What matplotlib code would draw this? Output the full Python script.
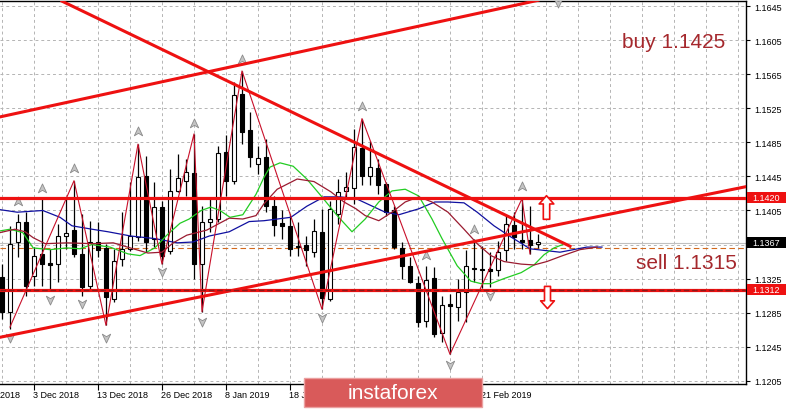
import numpy as np
import matplotlib.pyplot as plt
from matplotlib.path import Path
from matplotlib.patches import Rectangle
from matplotlib.transforms import Bbox, TransformedBbox

# daily EURUSD candles, bar 0 = 27 Nov 2018
opens = [1.1327, 1.1286, 1.1368, 1.1392, 1.1328, 1.1354, 1.1343, 1.1342, 1.1375, 1.1382,
         1.1354, 1.1316, 1.1368, 1.1361, 1.1301, 1.1348, 1.1360, 1.1374, 1.1446, 1.1372,
         1.1409, 1.1357, 1.1428, 1.1440, 1.1449, 1.1342, 1.1392, 1.1395, 1.1474, 1.1440,
         1.1542, 1.1500, 1.1460, 1.1468, 1.1410, 1.1390, 1.1387, 1.1363, 1.1365, 1.1356,
         1.1380, 1.1301, 1.1401, 1.1428, 1.1432, 1.1479, 1.1446, 1.1455, 1.1436, 1.1405,
         1.1361, 1.1340, 1.1320, 1.1275, 1.1326, 1.1261, 1.1294, 1.1292, 1.1309, 1.1338,
         1.1336, 1.1335, 1.1335, 1.1358, 1.1388, 1.1370, 1.1370, 1.1366]
highs = [1.1342, 1.1387, 1.1401, 1.1403, 1.1362, 1.1419, 1.1360, 1.1389, 1.1421, 1.1440,
         1.1401, 1.1393, 1.1392, 1.1366, 1.1360, 1.1403, 1.1438, 1.1483, 1.1469, 1.1438,
         1.1416, 1.1454, 1.1471, 1.1466, 1.1495, 1.1410, 1.1419, 1.1481, 1.1494, 1.1556,
         1.1569, 1.1521, 1.1481, 1.1489, 1.1422, 1.1405, 1.1401, 1.1392, 1.1375, 1.1395,
         1.1407, 1.1416, 1.1442, 1.1450, 1.1501, 1.1513, 1.1487, 1.1466, 1.1439, 1.1410,
         1.1368, 1.1350, 1.1328, 1.1340, 1.1339, 1.1305, 1.1307, 1.1325, 1.1358, 1.1372,
         1.1363, 1.1356, 1.1369, 1.1400, 1.1403, 1.1419, 1.1410, 1.1377]
lows = [1.1278, 1.1266, 1.1350, 1.1305, 1.1316, 1.1316, 1.1313, 1.1321, 1.1360, 1.1350,
        1.1305, 1.1313, 1.1350, 1.1270, 1.1297, 1.1340, 1.1357, 1.1369, 1.1356, 1.1362,
        1.1342, 1.1354, 1.1427, 1.1422, 1.1324, 1.1286, 1.1380, 1.1392, 1.1422, 1.1436,
        1.1483, 1.1456, 1.1448, 1.1403, 1.1375, 1.1372, 1.1352, 1.1352, 1.1340, 1.1350,
        1.1289, 1.1299, 1.1389, 1.1419, 1.1413, 1.1435, 1.1435, 1.1424, 1.1399, 1.1360,
        1.1325, 1.1320, 1.1268, 1.1268, 1.1256, 1.1251, 1.1236, 1.1275, 1.1274, 1.1321,
        1.1314, 1.1315, 1.1328, 1.1346, 1.1360, 1.1360, 1.1354, 1.1361]
closes = [1.1286, 1.1366, 1.1392, 1.1316, 1.1352, 1.1342, 1.1341, 1.1375, 1.1379, 1.1354,
          1.1315, 1.1368, 1.1359, 1.1303, 1.1346, 1.1360, 1.1375, 1.1444, 1.1368, 1.1409,
          1.1352, 1.1428, 1.1443, 1.1450, 1.1342, 1.1392, 1.1395, 1.1473, 1.1440, 1.1541,
          1.1497, 1.1468, 1.1467, 1.1410, 1.1388, 1.1387, 1.1360, 1.1362, 1.1358, 1.1381,
          1.1302, 1.1407, 1.1427, 1.1433, 1.1480, 1.1446, 1.1456, 1.1435, 1.1403, 1.1362,
          1.1340, 1.1321, 1.1274, 1.1323, 1.1260, 1.1294, 1.1293, 1.1309, 1.1340, 1.1336,
          1.1335, 1.1334, 1.1356, 1.1389, 1.1374, 1.1368, 1.1365, 1.1367]

# moving averages (bar index, price)
ma_blue_x = [-0.25, 1.9, 5.1, 7.25, 8.75, 11.25, 13.25, 16.1, 19.1, 21.9, 23.9, 25.9, 28.4, 30.9,
             32.75, 36.1, 38.1, 40.25, 42.25, 44.25, 47.9, 49.6, 52.1, 54.1, 55.75, 57.75, 59.4,
             61.5, 63.6, 66, 69.75, 73.1, 75]
ma_blue_y = [1.1406, 1.1403, 1.1405, 1.1397, 1.1387, 1.1383, 1.1380, 1.1375, 1.1372, 1.1367,
             1.1368, 1.1375, 1.1380, 1.1392, 1.1393, 1.1397, 1.1410, 1.1421, 1.1421, 1.1419,
             1.1403, 1.1400, 1.1407, 1.1415, 1.1415, 1.1414, 1.1403, 1.1387, 1.1374, 1.1360,
             1.1356, 1.1362, 1.1362]
ma_green_x = [-0.25, 1, 2.6, 3.9, 6, 8.1, 9.75, 11.25, 13.5, 15.75, 17.25, 19.1, 20.6, 22.25,
              23.4, 24.9, 26.1, 27.25, 28.5, 30.1, 31.75, 32.75, 33.5, 34.75, 36.4, 38.1, 39.9,
              41.9, 43.75, 45.4, 47.1, 48.75, 50.4, 52.1, 53.75, 55, 56.9, 58.6, 59.9, 61.1,
              62.75, 64.9, 66.5, 67.75, 69, 70.1]
ma_green_y = [1.1381, 1.1383, 1.1379, 1.1361, 1.1359, 1.1361, 1.1360, 1.1365, 1.1362, 1.1354,
              1.1352, 1.1361, 1.1376, 1.1390, 1.1395, 1.1405, 1.1409, 1.1405, 1.1397, 1.1400,
              1.1424, 1.1444, 1.1456, 1.1461, 1.1457, 1.1442, 1.1422, 1.1399, 1.1380, 1.1395,
              1.1415, 1.1428, 1.1430, 1.1422, 1.1395, 1.1372, 1.1340, 1.1322, 1.1319, 1.1319,
              1.1325, 1.1332, 1.1341, 1.1353, 1.1361, 1.1365]
ma_red_x = [-0.25, 1.6, 2.9, 3.9, 5.4, 8.1, 11.4, 13.9, 16.4, 18.25, 20, 21.4, 23.1, 25.6, 28.4,
            30.1, 31.75, 32.75, 34.4, 36.9, 39, 41.1, 42.75, 44.25, 45.4, 47.1, 48.75, 50.4,
            52.1, 53.75, 55.75, 57.75, 59.4, 61.1, 62.75, 64.9, 66.5, 68.1, 70.1, 72.25, 74.4]
ma_red_y = [1.1379, 1.1383, 1.1380, 1.1373, 1.1366, 1.1367, 1.1366, 1.1367, 1.1360, 1.1355,
            1.1356, 1.1367, 1.1376, 1.1382, 1.1396, 1.1395, 1.1399, 1.1413, 1.1430, 1.1442,
            1.1439, 1.1427, 1.1415, 1.1407, 1.1399, 1.1393, 1.1403, 1.1415, 1.1421, 1.1415,
            1.1403, 1.1383, 1.1366, 1.1352, 1.1345, 1.1342, 1.1341, 1.1345, 1.1352, 1.1359,
            1.1362]

# zigzag swing points
zz_x = [1, 9, 13, 17, 20, 24, 25, 30, 40, 45, 56, 65, 66]
zz_y = [1.1268, 1.1440, 1.1270, 1.1483, 1.1342, 1.1495, 1.1286, 1.1569, 1.1289, 1.1513,
        1.1236, 1.1419, 1.1354]

# fractals
frac_up_x = [2, 5, 9, 17, 24, 30, 45, 53, 59, 65]
frac_up_y = [1.1415, 1.1430, 1.1454, 1.1497, 1.1507, 1.1582, 1.1527, 1.1352, 1.1382, 1.1433]
frac_dn_x = [1, 6, 10, 13, 20, 25, 40, 56, 61, 69.5]
frac_dn_y = [1.1256, 1.1301, 1.1296, 1.1256, 1.1334, 1.1275, 1.1280, 1.1225, 1.1306, 1.1650]

# trend lines (bar index, price)
channel_top = ([-0.25, 67], [1.1515, 1.1652])
falling_line = ([7.5, 71], [1.1651, 1.1363])
rising_line = ([-0.25, 93], [1.1256, 1.1433])
resist = 1.1420
support = 1.1312
last_price = 1.1367
open_line = 1.1361

sig_x = [68, 68.1]
sig_y = [1.1409, 1.1303]

price_ticks = [1.1205, 1.1245, 1.1285, 1.1325, 1.1365, 1.1405, 1.1445, 1.1485, 1.1525,
               1.1565, 1.1605, 1.1645]
date_ticks = [-4, 4, 12, 20, 28, 36, 44, 52, 60]
date_labels = ['21 Nov 2018', '3 Dec 2018', '13 Dec 2018', '26 Dec 2018', '8 Jan 2019',
               '18 Jan 2019', '30 Jan 2019', '11 Feb 2019', '21 Feb 2019']

plt.rcParams['font.family'] = ['Liberation Sans', 'DejaVu Sans']

fig = plt.figure(figsize=(7.86, 4.10), dpi=100)
ax = fig.add_axes([0, 25 / 410, 746 / 786, 383 / 410])
ax.set_xlim(-0.25, 93)
ax.set_ylim(1.12011, 1.16512)

# grid
for g in np.arange(0, 93, 4):
    ax.axvline(g, color='#b4b4b4', lw=0.7, dashes=(3, 3), zorder=0)
for p in price_ticks:
    ax.axhline(p, color='#b4b4b4', lw=0.7, dashes=(3, 3), zorder=0)

# candles
idx = np.arange(len(opens))
o = np.array(opens); c = np.array(closes)
ax.vlines(idx, lows, highs, color='black', lw=0.9, zorder=2)
body_lo = np.minimum(o, c)
body_h = np.maximum(np.abs(c - o), 0.00018)
cols = ['white' if cc > oo else 'black' for oo, cc in zip(o, c)]
ax.bar(idx, body_h, bottom=body_lo, width=0.62, color=cols, edgecolor='black', lw=0.8, zorder=2.5)

# indicators
ax.plot(ma_blue_x, ma_blue_y, color='#1010a0', lw=0.9, zorder=3)
ax.plot(ma_green_x, ma_green_y, color='#22cc22', lw=0.9, zorder=3)
ax.plot(ma_red_x, ma_red_y, color='#9a1b30', lw=0.9, zorder=3)
ax.plot(zz_x, zz_y, color='#c8102a', lw=0.8, zorder=3.2)

up_head = Path([(0, 1), (0.75, -0.6), (0, -0.15), (-0.75, -0.6), (0, 1)],
               [Path.MOVETO, Path.LINETO, Path.LINETO, Path.LINETO, Path.CLOSEPOLY])
dn_head = Path([(0, -1), (0.75, 0.6), (0, 0.15), (-0.75, 0.6), (0, -1)],
               [Path.MOVETO, Path.LINETO, Path.LINETO, Path.LINETO, Path.CLOSEPOLY])
ax.plot(frac_up_x, frac_up_y, ls='none', marker=up_head, ms=8, mfc='#c4c4c4', mec='#8a8a8a',
        mew=0.6, zorder=3.5)
ax.plot(frac_dn_x, frac_dn_y, ls='none', marker=dn_head, ms=8, mfc='#c4c4c4', mec='#8a8a8a',
        mew=0.6, zorder=3.5)

# lines
ax.axhline(last_price, color='#c0c0c0', lw=0.8, zorder=1)
ax.axhline(open_line, color='#d2691e', lw=0.8, dashes=(5, 3), zorder=1.5)
ax.axhline(resist, color='#ee1111', lw=2.3, zorder=4)
ax.axhline(support, color='#ee1111', lw=2.3, zorder=4)
ax.axhline(support, color='#8b1a1a', lw=1.0, dashes=(4, 2), zorder=4.1)
ax.plot(*channel_top, color='#ee1111', lw=2.2, zorder=4)
ax.plot(*falling_line, color='#ee1111', lw=2.2, zorder=4)
ax.plot(*rising_line, color='#ee1111', lw=2.2, zorder=4)

# signal arrows
up_block = Path([(0, 1), (0.62, 0.3), (0.27, 0.3), (0.27, -1), (-0.27, -1), (-0.27, 0.3),
                 (-0.62, 0.3), (0, 1)],
                [Path.MOVETO] + [Path.LINETO] * 6 + [Path.CLOSEPOLY])
dn_block = Path([(0, -1), (0.62, -0.3), (0.27, -0.3), (0.27, 1), (-0.27, 1), (-0.27, -0.3),
                 (-0.62, -0.3), (0, -1)],
                [Path.MOVETO] + [Path.LINETO] * 6 + [Path.CLOSEPOLY])
ax.plot(sig_x[0], sig_y[0], marker=up_block, ms=17, mfc='white', mec='#ee1111', mew=1.2, zorder=5)
ax.plot(sig_x[1], sig_y[1], marker=dn_block, ms=16, mfc='white', mec='#ee1111', mew=1.2, zorder=5)

ax.text(0.9035, 0.893, 'buy 1.1425', transform=ax.transAxes, ha='center', va='center',
        fontsize=15, color='#a5282d', zorder=6)
ax.text(0.9196, 0.3185, 'sell 1.1315', transform=ax.transAxes, ha='center', va='center',
        fontsize=15, color='#a5282d', zorder=6)

# axes styling
for s in ['top', 'right', 'bottom']:
    ax.spines[s].set_linewidth(1.0)
ax.spines['left'].set_visible(False)
ax.yaxis.tick_right()
ax.set_yticks(price_ticks)
ax.set_yticklabels(['%.4f' % p if p != 1.1365 else '' for p in price_ticks])
ax.tick_params(axis='y', length=3, pad=3, labelsize=6.5)
ax.set_xticks(date_ticks[1:])
ax.set_xticklabels([])
ax.tick_params(axis='x', length=4)

# date labels; the watermark box covers part of the scale
wm_left, wm_right = 304 / 786, 482 / 786
left_clip = TransformedBbox(Bbox([[0, 0], [wm_left, 1]]), fig.transFigure)
trans = ax.get_xaxis_transform()
for t, lab in zip(date_ticks, date_labels):
    x_fig = fig.transFigure.inverted().transform(ax.transData.transform((t, 0)))[0]
    if wm_left - 0.02 < x_fig < wm_right:
        if x_fig > wm_left - 0.02 and x_fig < wm_left:
            txt = ax.text(t - 0.1, -0.028, lab, transform=trans, ha='left', va='center',
                          fontsize=6.5)
            txt.set_clip_box(left_clip)
            txt.set_clip_on(True)
        continue
    ax.text(t - 0.1, -0.028, lab, transform=trans, ha='left', va='center', fontsize=6.5,
            clip_on=False)

# price boxes on the scale
ytr = ax.get_yaxis_transform()
for p, fc in [(resist, '#ee1111'), (last_price, 'black'), (support, '#ee1111')]:
    ax.add_patch(Rectangle((1.002, p - 0.00066), 0.06, 0.00132, transform=ytr, facecolor=fc,
                           edgecolor='none', clip_on=False, zorder=7))
    ax.text(1.008, p, '%.4f' % p, transform=ytr, ha='left', va='center', fontsize=6.5,
            color='white', clip_on=False, zorder=8)

# watermark
fig.patches.append(Rectangle((wm_left, 2 / 410), wm_right - wm_left, 29 / 410,
                             transform=fig.transFigure, facecolor='#d95a5a',
                             edgecolor='#eba0a0', lw=1, zorder=10))
fig.text(393 / 786, 16 / 410, 'instaforex', ha='center', va='center', fontsize=15,
         color='white', zorder=11)

fig.savefig('out.png', dpi=100)
